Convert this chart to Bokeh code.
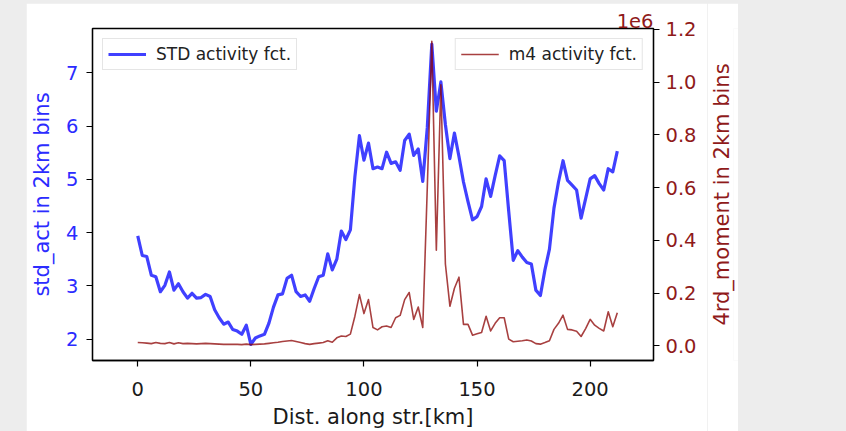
import math
from bokeh.plotting import figure
from bokeh.layouts import row
from bokeh.models import (Range1d, LinearAxis, Legend, LegendItem, Title,
                          FixedTicker, NumeralTickFormatter)
from bokeh.embed import file_html
from bokeh.resources import INLINE

# ---- data (2 km bins) ----
dist_km = list(range(0, 214, 2))

std_act = [3.94, 3.57, 3.55, 3.20, 3.17, 2.89, 3.01, 3.26, 2.92, 3.04,
           2.89, 2.77, 2.86, 2.77, 2.78, 2.84, 2.80, 2.55, 2.40, 2.28,
           2.32, 2.18, 2.15, 2.09, 2.26, 1.90, 2.02, 2.06, 2.09, 2.30,
           2.60, 2.83, 2.85, 3.14, 3.20, 2.89, 2.80, 2.83, 2.71, 2.95,
           3.17, 3.20, 3.60, 3.30, 3.50, 4.03, 3.87, 4.05, 5.05, 5.82,
           5.36, 5.68, 5.20, 5.23, 5.20, 5.51, 5.30, 5.33, 5.17, 5.73,
           5.85, 5.45, 5.57, 4.96, 5.97, 7.54, 6.28, 6.83, 6.03, 5.39,
           5.87, 5.43, 4.95, 4.58, 4.24, 4.30, 4.49, 5.01, 4.68, 5.07,
           5.44, 5.35, 4.40, 3.48, 3.66, 3.54, 3.44, 3.41, 2.92, 2.82,
           3.30, 3.69, 4.46, 4.95, 5.35, 4.98, 4.89, 4.80, 4.27, 4.64,
           5.01, 5.07, 4.92, 4.80, 5.20, 5.14, 5.53]

# 4th moment, in units of 1e6
m4_act_1e6 = [0.012, 0.011, 0.010, 0.008, 0.012, 0.009, 0.008, 0.012, 0.007, 0.011,
              0.008, 0.009, 0.008, 0.007, 0.008, 0.009, 0.008, 0.007, 0.006, 0.005,
              0.005, 0.005, 0.005, 0.004, 0.006, 0.004, 0.005, 0.006, 0.007, 0.009,
              0.011, 0.013, 0.016, 0.018, 0.020, 0.016, 0.012, 0.008, 0.005, 0.008,
              0.010, 0.012, 0.019, 0.013, 0.030, 0.037, 0.035, 0.044, 0.112, 0.194,
              0.122, 0.175, 0.069, 0.060, 0.072, 0.075, 0.069, 0.106, 0.115, 0.175,
              0.202, 0.100, 0.147, 0.069, 0.600, 1.155, 0.362, 0.990, 0.310, 0.150,
              0.218, 0.260, 0.081, 0.081, 0.040, 0.045, 0.050, 0.112, 0.056, 0.085,
              0.106, 0.106, 0.025, 0.015, 0.017, 0.019, 0.022, 0.018, 0.008, 0.006,
              0.012, 0.019, 0.062, 0.085, 0.116, 0.062, 0.060, 0.055, 0.035, 0.065,
              0.100, 0.078, 0.066, 0.056, 0.129, 0.072, 0.125]

x_ticks = [0, 50, 100, 150, 200]
left_ticks = [2, 3, 4, 5, 6, 7]
right_ticks = [0.0, 0.2, 0.4, 0.6, 0.8, 1.0, 1.2]

FONT = "DejaVu Sans"
BLUE_TXT = "#2b2bff"
RED_TXT = "#8f1a1a"
TICK_FS = "19.5px"
LABEL_FS = "21px"

X0, X1 = -20.0, 228.0
Y0, Y1 = 1.598, 7.833
TOP, BOTTOM = 25, 66

p = figure(width=681, height=428, output_backend="svg", toolbar_location=None,
           x_range=Range1d(X0, X1), y_range=Range1d(Y0, Y1),
           min_border_left=66, min_border_right=54, min_border_top=TOP,
           min_border_bottom=BOTTOM)
p.extra_y_ranges = {"m4": Range1d(-0.0561, 1.2037)}
p.background_fill_color = "white"
p.border_fill_color = "white"
p.outline_line_color = "black"
p.outline_line_width = 1.3
p.xgrid.visible = False
p.ygrid.visible = False

def style_axis(ax, color):
    ax.major_tick_in = 0
    ax.major_tick_out = 6
    ax.major_tick_line_color = "black"
    ax.major_tick_line_width = 1.2
    ax.minor_tick_line_color = None
    ax.axis_line_color = "black"
    ax.axis_line_width = 1.3
    ax.major_label_text_font = FONT
    ax.major_label_text_font_size = TICK_FS
    ax.major_label_text_color = color
    ax.major_label_standoff = 8
    ax.axis_label_text_font = FONT
    ax.axis_label_text_font_size = LABEL_FS
    ax.axis_label_text_font_style = "normal"
    ax.axis_label_text_color = color

xa = p.xaxis[0]
style_axis(xa, "#1a1a1a")
xa.ticker = FixedTicker(ticks=x_ticks)
xa.axis_label = "Dist. along str.[km]"
xa.axis_label_standoff = 6
xa.major_label_standoff = 15

ya = p.yaxis[0]
style_axis(ya, BLUE_TXT)
ya.ticker = FixedTicker(ticks=left_ticks)
ya.axis_label = "std_act in 2km bins"
ya.axis_label_standoff = 9

ra = LinearAxis(y_range_name="m4")
style_axis(ra, RED_TXT)
ra.ticker = FixedTicker(ticks=right_ticks)
ra.formatter = NumeralTickFormatter(format="0.0")
ra.major_label_standoff = 6
p.add_layout(ra, "right")

blue = p.line(dist_km, std_act, line_color="blue", line_alpha=0.75,
              line_width=3.2, line_join="round")
red = p.line(dist_km, m4_act_1e6, y_range_name="m4", line_color="darkred",
             line_alpha=0.75, line_width=1.6, line_join="round")

def style_legend(lg):
    lg.label_text_font = FONT
    lg.label_text_font_size = "17px"
    lg.label_text_color = "#222222"
    lg.glyph_width = 38
    lg.glyph_height = 18
    lg.label_height = 18
    lg.label_standoff = 10
    lg.padding = 5
    lg.spacing = 0
    lg.margin = 10
    lg.border_line_color = "#cccccc"
    lg.border_line_width = 1
    lg.background_fill_alpha = 0.8

leg1 = Legend(items=[LegendItem(label="STD activity fct.", renderers=[blue])],
              location="top_left")
style_legend(leg1)
leg2 = Legend(items=[LegendItem(label="m4 activity fct.", renderers=[red])],
              location="top_right")
style_legend(leg2)
p.add_layout(leg1)
p.add_layout(leg2)

# axis offset text
offset_title = Title(text="1e6", align="right", text_font=FONT,
                     text_font_size=TICK_FS, text_color=RED_TXT,
                     text_font_style="normal", standoff=2, offset=0)
p.add_layout(offset_title, "above")

# narrow strip holding the right-axis label (reads bottom-to-top)
p2 = figure(width=31, height=428, output_backend="svg", toolbar_location=None,
            x_axis_location=None, y_axis_location=None,
            min_border_left=0, min_border_right=0, min_border_top=TOP,
            min_border_bottom=BOTTOM)
p2.background_fill_color = "white"
p2.border_fill_color = "white"
p2.outline_line_color = None
p2.xgrid.visible = False
p2.ygrid.visible = False
p2.add_layout(Title(text="4rd_moment in 2km bins", align="center",
                    text_font=FONT, text_font_size=LABEL_FS,
                    text_color=RED_TXT, text_font_style="normal",
                    standoff=0, offset=0), "left")

layout = row(p, p2, spacing=0, margin=(3, 0, 0, 26))

html = file_html(layout, INLINE, title="chart")
html = html.replace("</head>",
                    "<style>html, body { background: #ededed !important; "
                    "overflow: hidden !important; }</style></head>", 1)
open("out.html", "w").write(html)
